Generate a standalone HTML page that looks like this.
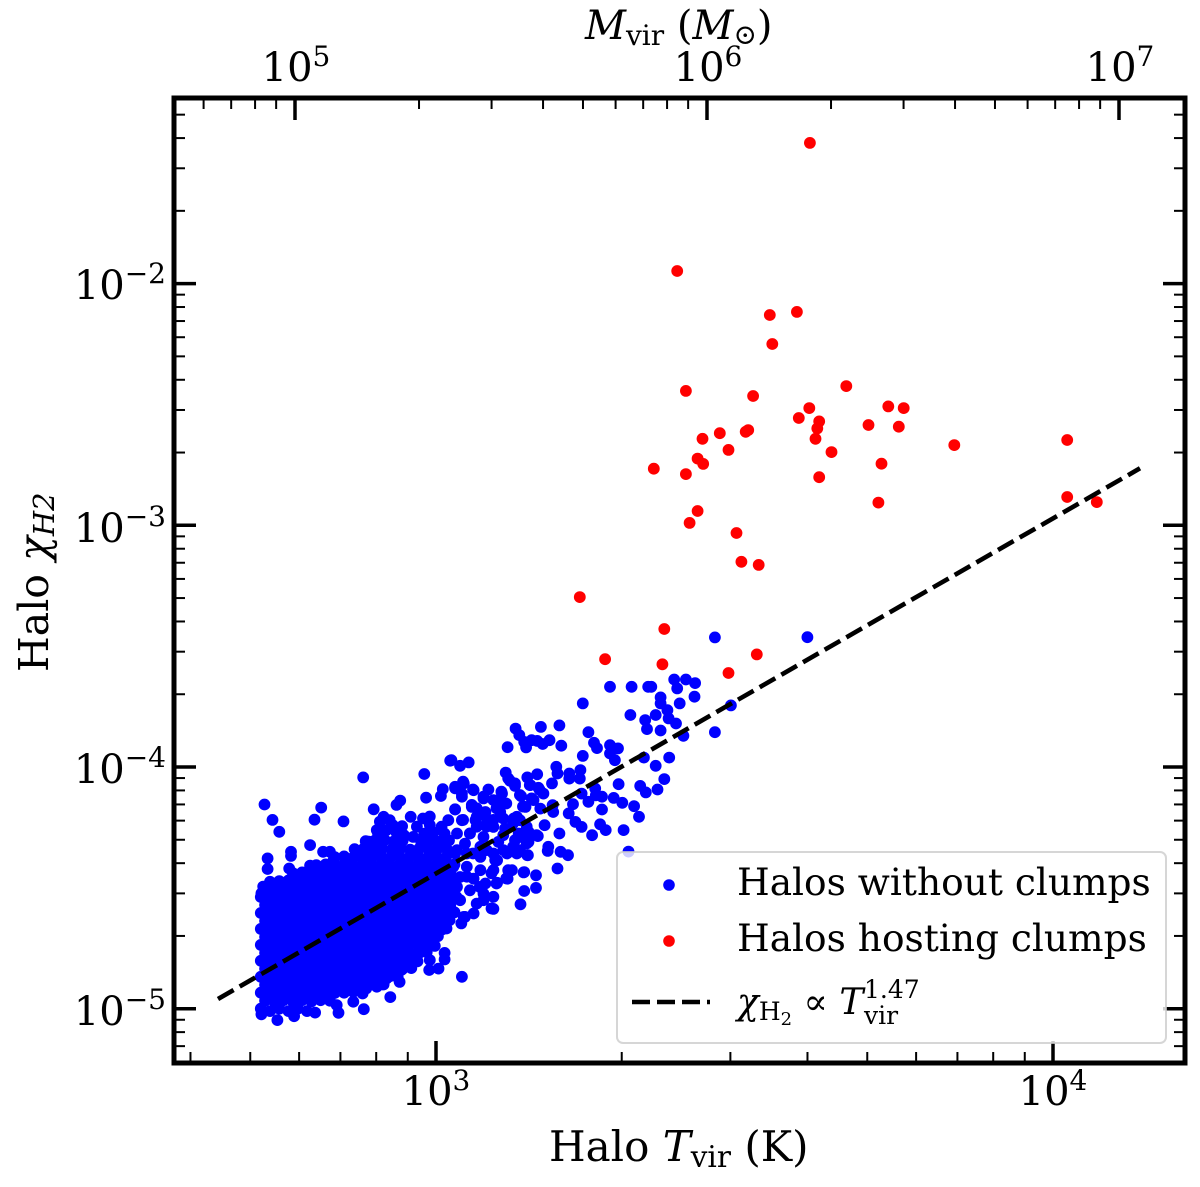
<!DOCTYPE html>
<html lang="en">
<head>
<meta charset="utf-8">
<title>Halo molecular hydrogen fraction versus virial temperature</title>
<style>
html,body{margin:0;padding:0;background:#fff}
svg{display:block}
text{font-family:"DejaVu Serif","Liberation Serif",serif;fill:#000}
.i{font-style:italic}
</style>
</head>
<body>
<svg id="chart" xmlns="http://www.w3.org/2000/svg" width="1200" height="1187" viewBox="0 0 1200 1187">
<rect x="0" y="0" width="1200" height="1187" fill="#fff"/>
<g id="marks"></g>
<g id="axes"></g>

<g font-size="40">
<text x="436" y="1105" text-anchor="middle">10<tspan font-size="28" dy="-15">3</tspan></text>
<text x="1053" y="1105" text-anchor="middle">10<tspan font-size="28" dy="-15">4</tspan></text>
<text x="296" y="81" text-anchor="middle">10<tspan font-size="28" dy="-15">5</tspan></text>
<text x="708" y="81" text-anchor="middle">10<tspan font-size="28" dy="-15">6</tspan></text>
<text x="1120" y="81" text-anchor="middle">10<tspan font-size="28" dy="-15">7</tspan></text>
<text x="166" y="299" text-anchor="end">10<tspan font-size="28" dy="-16">−2</tspan></text>
<text x="166" y="542" text-anchor="end">10<tspan font-size="28" dy="-16">−3</tspan></text>
<text x="166" y="783" text-anchor="end">10<tspan font-size="28" dy="-16">−4</tspan></text>
<text x="166" y="1025" text-anchor="end">10<tspan font-size="28" dy="-16">−5</tspan></text>
</g>

<text x="549" y="1161" font-size="42">Halo <tspan class="i">T</tspan><tspan font-size="29.5" dy="6">vir</tspan><tspan dy="-6"> (K)</tspan></text>
<text x="585" y="39" font-size="40"><tspan class="i">M</tspan><tspan font-size="28" dy="6">vir</tspan><tspan dy="-6"> (</tspan><tspan class="i">M</tspan><tspan font-size="28" dy="5">⊙</tspan><tspan dy="-5">)</tspan></text>
<text transform="translate(48,672) rotate(-90)" x="0" y="0" font-size="41">Halo <tspan class="i">χ</tspan><tspan class="i" font-size="29" dy="6">H2</tspan></text>

<g>
<rect x="617" y="852" width="549" height="191" rx="6" ry="6" fill="#fff" fill-opacity="0.8" stroke="#ccc" stroke-opacity="0.8" stroke-width="2"/>
<circle cx="669" cy="885" r="5.8" fill="#0000ff"/>
<text x="737" y="895" font-size="37.5">Halos without clumps</text>
<circle cx="669" cy="941" r="5.8" fill="#ff0000"/>
<text x="737" y="951" font-size="37.5">Halos hosting clumps</text>
<line x1="632" y1="1002" x2="710" y2="1002" stroke="#000" stroke-width="4.5" stroke-dasharray="18 7"/>
<text x="737" y="1014" font-size="36"><tspan class="i">χ</tspan><tspan font-size="25" dy="6">H</tspan><tspan font-size="18" dy="5">2</tspan><tspan dy="-11"> ∝ </tspan><tspan class="i">T</tspan></text>
<text x="864" y="998" font-size="25">1.47</text>
<text x="864" y="1024" font-size="25">vir</text>
</g>
</svg>

<script>
/* Values are log10(T_vir / K) and log10(x_H2). */
const xMajorExponents = [3, 4];
const yMajorExponents = [-5, -4, -3, -2];
const topMajorExponents = [5, 6, 7];
const minorMultipliers = [2, 3, 4, 5, 6, 7, 8, 9];

const fitLogT = [2.6467, 4.141];
const fitLogX = [-4.9600, -2.7640];

const redHalos = [
[3.606,-1.418],[3.391,-1.948],[3.541,-2.130],[3.585,-2.117],[3.545,-2.250],[3.405,-2.444],[3.514,-2.465],
[3.665,-2.424],[3.605,-2.515],[3.588,-2.556],[3.733,-2.508],[3.758,-2.515],[3.621,-2.570],[3.618,-2.599],
[3.615,-2.642],[3.701,-2.585],[3.750,-2.592],[3.506,-2.606],[3.502,-2.613],[3.460,-2.619],[3.432,-2.642],
[3.474,-2.688],[3.641,-2.697],[3.840,-2.668],[3.424,-2.724],[3.433,-2.746],[3.353,-2.766],[3.405,-2.788],
[3.722,-2.745],[3.621,-2.801],[3.717,-2.906],[3.424,-2.941],[3.411,-2.990],[3.487,-3.032],[3.495,-3.151],
[3.523,-3.164],[3.233,-3.297],[3.370,-3.429],[3.274,-3.554],[3.367,-3.575],[3.520,-3.534],[3.474,-3.611],
[4.023,-2.647],[4.023,-2.883],[4.071,-2.904]
];

const blueSparse = [
[3.602,-3.463],[3.452,-3.464],[3.282,-3.668],[3.317,-3.668],[3.344,-3.668],[3.349,-3.668],[3.386,-3.638],[3.405,-3.638],
[3.420,-3.653],[3.391,-3.675],[3.419,-3.709],[3.364,-3.712],[3.364,-3.737],[3.395,-3.737],[3.238,-3.737],[3.478,-3.745],
[3.375,-3.765],[3.315,-3.785],[3.356,-3.785],[3.377,-3.799],[3.339,-3.806],[3.389,-3.820],[3.342,-3.843],[3.364,-3.849],
[3.401,-3.871],[3.452,-3.856],[3.247,-3.856],[3.129,-3.841],[3.170,-3.834],[3.200,-3.828],[3.135,-3.868],[3.143,-3.896],
[3.155,-3.889],[3.164,-3.892],[3.173,-3.905],[3.184,-3.889],[3.203,-3.912],[3.116,-3.918],[3.146,-3.919],[3.256,-3.900],
[3.261,-3.922],[3.282,-3.910],[3.295,-3.923],[3.282,-3.944],[3.290,-3.972],[3.238,-3.954],[3.337,-3.961],[3.378,-3.961],
[3.356,-3.995],[3.370,-4.050],[3.053,-3.981],[3.039,-3.995],[3.025,-3.972],[3.113,-4.023],[3.195,-3.999],[3.197,-4.027],
[3.164,-4.030],[3.148,-4.043],[3.216,-4.027],[3.216,-4.048],[3.234,-4.013],[3.233,-4.048],[3.120,-4.057],[3.128,-4.078],
[3.188,-4.068],[3.296,-4.071],[3.331,-4.078],[3.340,-4.105],[3.359,-4.093],[3.153,-4.075],[3.166,-4.086],[3.174,-4.110],
[3.138,-4.121],[3.258,-4.089],[3.236,-4.110],[3.259,-4.117],[3.269,-4.123],[3.288,-4.128],[3.302,-4.148],[3.321,-4.162],
[3.329,-4.206],[3.247,-4.144],[3.269,-4.176],[3.222,-4.154],[3.215,-4.192],[3.226,-4.227],[3.236,-4.248],[3.266,-4.237],
[3.275,-4.261],[3.253,-4.282],[3.304,-4.261],[3.176,-4.241],[3.200,-4.275],[3.182,-4.330],[3.181,-4.347],[3.202,-4.351],
[3.214,-4.365],[3.197,-4.420],[3.165,-4.286],[3.148,-4.365],[3.143,-4.435],[3.162,-4.448],[3.162,-4.500],[3.143,-4.513],
[3.137,-4.568],[3.093,-4.587],[3.061,-4.606],[3.045,-4.620],[3.116,-4.462],[3.123,-4.427],[3.099,-4.479],[3.312,-4.350],
[3.045,-4.068],[3.031,-4.082],[3.061,-4.096],[3.085,-4.093],[3.042,-4.110],[3.107,-4.110],[3.099,-4.144],[3.077,-4.123],
[3.155,-4.130],[3.145,-4.165],[3.136,-4.220],[3.190,-4.186],[3.189,-4.158],[3.169,-4.172],[3.058,-4.165],[3.031,-4.176],
[3.080,-4.186],[3.104,-4.186],[3.126,-4.213],[3.042,-4.220],[3.064,-4.220],[3.082,-4.234],[3.093,-4.248],[3.112,-4.255],
[3.134,-4.275],[3.150,-4.268],[3.034,-4.275],[3.055,-4.275],[3.077,-4.289],[3.101,-4.310],[3.128,-4.303],[3.150,-4.310],
[3.047,-4.317],[3.072,-4.330],[3.093,-4.358],[3.115,-4.358],[3.136,-4.344],[3.034,-4.344],[3.050,-4.358],[3.072,-4.372],
[3.099,-4.386],[3.028,-4.413],[3.050,-4.413],[3.072,-4.427],[3.093,-4.427],[3.039,-4.455],[3.061,-4.462],[3.080,-4.482],
[3.034,-4.496],[3.055,-4.510],[3.077,-4.524],[3.093,-4.537],[3.039,-4.551],[3.066,-4.565],
[2.882,-4.043],[2.981,-4.029],[3.023,-3.974],[3.011,-4.092],[3.008,-4.120],[2.984,-4.127],[2.942,-4.139],[2.936,-4.157],
[2.814,-4.168],[2.803,-4.218],[2.850,-4.225],[2.899,-4.175],[2.915,-4.206],[2.925,-4.220],[2.909,-4.226],[2.904,-4.261],
[2.920,-4.261],[2.917,-4.302],[2.959,-4.206],[2.979,-4.213],[2.969,-4.247],[2.990,-4.240],[3.009,-4.247],[2.948,-4.282],
[2.963,-4.289],[3.031,-4.175],[3.044,-4.061],[3.031,-4.088],[3.042,-4.123],[3.060,-4.093],[2.891,-4.309],[2.796,-4.323],
[2.817,-4.351],[2.828,-4.351],[2.834,-4.385],[2.875,-4.358],[2.896,-4.344],[2.796,-4.408],[2.858,-4.392],[2.815,-4.426],
[2.722,-4.155],[2.735,-4.219],[2.746,-4.268],[2.727,-4.378],[2.727,-4.422],[2.765,-4.351],[2.765,-4.368],[2.762,-4.420],
[2.788,-4.451],[2.720,-4.495],[2.731,-4.475],[2.717,-4.523],[2.874,-4.364],[2.860,-4.399],
[3.042,-4.868],[2.926,-4.952],[2.883,-5.002],[2.842,-5.017],[2.866,-4.971],[2.817,-4.951],[2.839,-4.985],[2.804,-5.016],
[2.770,-5.031],[2.743,-5.047],[2.717,-5.023],[2.887,-4.916],[2.904,-4.909],[2.920,-4.875],[2.941,-4.889],[2.953,-4.820],
[2.966,-4.803],[2.944,-4.840],[2.990,-4.799],[2.989,-4.840],[3.004,-4.834],[3.014,-4.769],[3.014,-4.796],[2.985,-4.737],
[2.968,-4.730],[3.009,-4.609],[3.017,-4.668],[3.004,-4.661],[3.041,-4.647],[3.047,-4.620]
];

const blueMidBand = [
[3.058,-4.157],[3.066,-4.171],[3.077,-4.130],[3.093,-4.137],[3.106,-4.102],[3.114,-4.151],[3.098,-4.171],[3.079,-4.199],
[3.066,-4.206],[3.093,-4.219],[3.109,-4.213],[3.125,-4.233],[3.136,-4.116],[3.128,-4.068],[3.117,-4.047],[3.152,-4.075],
[3.168,-4.095],[3.158,-4.137],[3.141,-4.164],[3.131,-4.206],[3.147,-4.247],[3.163,-4.282],[3.136,-4.289],[3.147,-4.316],
[3.125,-4.330],[3.109,-4.282],[3.082,-4.247],[3.066,-4.247],[3.055,-4.275],[3.044,-4.219],[3.031,-4.358],[3.060,-4.358],
[3.082,-4.344],[3.109,-4.344],[3.131,-4.358],[3.149,-4.365],[3.096,-4.385],[3.090,-4.440],[3.098,-4.482],[3.117,-4.427],
[3.114,-4.461],[3.142,-4.436],[3.090,-4.585],[3.071,-4.496],[3.077,-4.551],[3.050,-4.454],[3.033,-4.537]
];

const blueLowerEdge = [
[2.828,-4.967],[2.851,-4.934],[2.866,-4.93],[2.881,-4.937],[2.888,-4.90],[2.903,-4.904],[2.915,-4.90],
[2.911,-4.868],[2.926,-4.865],[2.938,-4.87],[2.946,-4.835],[2.960,-4.832],[2.956,-4.80],[2.970,-4.804],
[2.973,-4.769],[2.985,-4.766],[2.971,-4.736],[2.986,-4.733],[2.998,-4.74],[2.993,-4.703],[3.003,-4.70],
[3.010,-4.672],[3.008,-4.637],[3.022,-4.634]
];

const blueDenseLower = [
[2.716,-5.00],[2.731,-5.01],[2.746,-5.00],[2.761,-5.01],[2.776,-5.00],[2.791,-5.01],
[2.723,-4.967],[2.738,-4.97],[2.753,-4.965],[2.768,-4.97],[2.783,-4.965],[2.798,-4.97],[2.813,-4.965],
[2.716,-4.934],[2.731,-4.93],[2.746,-4.937],[2.761,-4.93],[2.776,-4.937],[2.791,-4.93],[2.806,-4.937],[2.821,-4.93],[2.836,-4.935],
[2.723,-4.901],[2.738,-4.90],[2.753,-4.904],[2.768,-4.90],[2.783,-4.904],[2.798,-4.90],[2.813,-4.904],[2.828,-4.90],[2.843,-4.904],[2.858,-4.90],[2.873,-4.902],
[2.716,-4.868],[2.731,-4.865],[2.746,-4.87],[2.761,-4.865],[2.776,-4.87],[2.791,-4.865],[2.806,-4.87],[2.821,-4.865],[2.836,-4.87],[2.851,-4.865],[2.866,-4.87],[2.881,-4.865],[2.896,-4.87],
[2.723,-4.835],[2.738,-4.832],[2.753,-4.837],[2.768,-4.832],[2.783,-4.837],[2.798,-4.832],[2.813,-4.837],[2.828,-4.832],[2.843,-4.837],[2.858,-4.832],[2.873,-4.837],[2.888,-4.832],[2.903,-4.837],[2.918,-4.832],[2.931,-4.836],
[2.716,-4.802],[2.731,-4.80],[2.746,-4.804],[2.761,-4.80],[2.776,-4.804],[2.791,-4.80],[2.806,-4.804],[2.821,-4.80],[2.836,-4.804],[2.851,-4.80],[2.866,-4.804],[2.881,-4.80],[2.896,-4.804],[2.911,-4.80],[2.926,-4.804],[2.941,-4.80],
[2.723,-4.769],[2.738,-4.766],[2.753,-4.771],[2.768,-4.766],[2.783,-4.771],[2.798,-4.766],[2.813,-4.771],[2.828,-4.766],[2.843,-4.771],[2.858,-4.766],[2.873,-4.771],[2.888,-4.766],[2.903,-4.771],[2.918,-4.766],[2.933,-4.771],[2.948,-4.766],[2.958,-4.77],
[2.716,-4.736],[2.731,-4.733],[2.746,-4.738],[2.761,-4.733],[2.776,-4.738],[2.791,-4.733],[2.806,-4.738],[2.821,-4.733],[2.836,-4.738],[2.851,-4.733],[2.866,-4.738],[2.881,-4.733],[2.896,-4.738],[2.911,-4.733],[2.926,-4.738],[2.941,-4.733],[2.956,-4.736]
];

const blueDenseMiddle = [
[2.723,-4.703],[2.738,-4.70],[2.753,-4.705],[2.768,-4.70],[2.783,-4.705],[2.798,-4.70],[2.813,-4.705],[2.828,-4.70],[2.843,-4.705],[2.858,-4.70],[2.873,-4.705],[2.888,-4.70],[2.903,-4.705],[2.918,-4.70],[2.933,-4.705],[2.948,-4.70],[2.963,-4.705],[2.978,-4.70],
[2.716,-4.670],[2.731,-4.667],[2.746,-4.672],[2.761,-4.667],[2.776,-4.672],[2.791,-4.667],[2.806,-4.672],[2.821,-4.667],[2.836,-4.672],[2.851,-4.667],[2.866,-4.672],[2.881,-4.667],[2.896,-4.672],[2.911,-4.667],[2.926,-4.672],[2.941,-4.667],[2.956,-4.672],[2.971,-4.667],[2.986,-4.672],[2.998,-4.667],
[2.723,-4.637],[2.738,-4.634],[2.753,-4.639],[2.768,-4.634],[2.783,-4.639],[2.798,-4.634],[2.813,-4.639],[2.828,-4.634],[2.843,-4.639],[2.858,-4.634],[2.873,-4.639],[2.888,-4.634],[2.903,-4.639],[2.918,-4.634],[2.933,-4.639],[2.948,-4.634],[2.963,-4.639],[2.978,-4.634],[2.993,-4.639],
[2.716,-4.604],[2.731,-4.601],[2.746,-4.606],[2.761,-4.601],[2.776,-4.606],[2.791,-4.601],[2.806,-4.606],[2.821,-4.601],[2.836,-4.606],[2.851,-4.601],[2.866,-4.606],[2.881,-4.601],[2.896,-4.606],[2.911,-4.601],[2.926,-4.606],[2.941,-4.601],[2.956,-4.606],[2.971,-4.601],[2.986,-4.606],[3.001,-4.601],[3.016,-4.606],[3.030,-4.601],
[2.723,-4.571],[2.738,-4.568],[2.753,-4.573],[2.768,-4.568],[2.783,-4.573],[2.798,-4.568],[2.813,-4.573],[2.828,-4.568],[2.843,-4.573],[2.858,-4.568],[2.873,-4.573],[2.888,-4.568],[2.903,-4.573],[2.918,-4.568],[2.933,-4.573],[2.948,-4.568],[2.963,-4.573],[2.978,-4.568],[2.993,-4.573],[3.008,-4.568],[3.023,-4.573],
[2.716,-4.538],[2.731,-4.535],[2.746,-4.54],[2.761,-4.535],[2.776,-4.54],[2.791,-4.535],[2.806,-4.54],[2.821,-4.535],[2.836,-4.54],[2.851,-4.535],[2.866,-4.54],[2.881,-4.535],[2.896,-4.54],[2.911,-4.535],[2.926,-4.54],[2.941,-4.535],[2.956,-4.54],[2.971,-4.535],[2.986,-4.54],[3.001,-4.535],[3.016,-4.54],[3.030,-4.535],
[2.723,-4.505],[2.738,-4.502],[2.753,-4.507],[2.768,-4.502],[2.783,-4.507],[2.798,-4.502],[2.813,-4.507],[2.828,-4.502],[2.843,-4.507],[2.858,-4.502],[2.873,-4.507],[2.888,-4.502],[2.903,-4.507],[2.918,-4.502],[2.933,-4.507],[2.948,-4.502],[2.963,-4.507],[2.978,-4.502],[2.993,-4.507],[3.008,-4.502],[3.023,-4.507]
];

const blueDenseUpper = [
[2.746,-4.472],[2.761,-4.469],[2.776,-4.474],[2.791,-4.469],[2.806,-4.474],[2.821,-4.469],[2.836,-4.474],[2.851,-4.469],[2.866,-4.474],[2.881,-4.469],[2.896,-4.474],[2.911,-4.469],[2.926,-4.474],[2.941,-4.469],[2.956,-4.474],[2.971,-4.469],[2.986,-4.474],[3.001,-4.469],[3.016,-4.474],[3.030,-4.469],
[2.768,-4.439],[2.783,-4.436],[2.798,-4.441],[2.813,-4.436],[2.828,-4.441],[2.843,-4.436],[2.858,-4.441],[2.873,-4.436],[2.888,-4.441],[2.903,-4.436],[2.918,-4.441],[2.933,-4.436],[2.948,-4.441],[2.963,-4.436],[2.978,-4.441],[2.993,-4.436],[3.008,-4.441],[3.023,-4.436],
[2.806,-4.406],[2.821,-4.403],[2.836,-4.408],[2.851,-4.403],[2.866,-4.408],[2.881,-4.403],[2.896,-4.408],[2.911,-4.403],[2.926,-4.408],[2.941,-4.403],[2.956,-4.408],[2.971,-4.403],[2.986,-4.408],[3.001,-4.403],[3.016,-4.408],[3.030,-4.403],
[2.836,-4.373],[2.851,-4.37],[2.866,-4.375],[2.881,-4.37],[2.896,-4.375],[2.911,-4.37],[2.926,-4.375],[2.941,-4.37],[2.956,-4.375],[2.971,-4.37],[2.986,-4.375],[3.001,-4.37],[3.016,-4.375],
[2.868,-4.340],[2.883,-4.337],[2.898,-4.342],[2.913,-4.337],[2.928,-4.342],[2.943,-4.337],[2.958,-4.342],[2.973,-4.337],[2.988,-4.342],[3.003,-4.337],[3.018,-4.342],
[2.886,-4.307],[2.901,-4.304],[2.931,-4.309],[2.946,-4.304],[2.976,-4.309],[2.991,-4.304],[3.006,-4.309],[3.021,-4.304],
[2.906,-4.274],[2.936,-4.271],[2.981,-4.276],[2.996,-4.271],[3.014,-4.276],
[2.930,-4.241],[2.945,-4.245],[2.990,-4.205],[3.020,-4.220]
];

const SVG_NS = 'http://www.w3.org/2000/svg';

/* Axis functions: data (log10) to pixels. */
function xScale(logT) { return 436 + (logT - 3) * 617; }
function yScale(logX) { return 767 - (logX + 4) * 241.7; }
function topScale(logM) { return 295 + (logM - 5) * 412; }

const marks = document.getElementById('marks');
const axes = document.getElementById('axes');

function drawDot(point, color, name) {
  const el = document.createElementNS(SVG_NS, 'circle');
  el.setAttribute('cx', xScale(point[0]).toFixed(1));
  el.setAttribute('cy', yScale(point[1]).toFixed(1));
  el.setAttribute('r', '5.9');
  el.setAttribute('fill', color);
  
  
  marks.appendChild(el);
}

function drawRule(x1, y1, x2, y2, width, name) {
  const el = document.createElementNS(SVG_NS, 'line');
  el.setAttribute('x1', x1);
  el.setAttribute('y1', y1);
  el.setAttribute('x2', x2);
  el.setAttribute('y2', y2);
  el.setAttribute('stroke', '#000');
  el.setAttribute('stroke-width', width);
  
  
  axes.appendChild(el);
}

[blueDenseLower, blueDenseMiddle, blueDenseUpper, blueLowerEdge, blueMidBand, blueSparse].forEach(function (series) {
  series.forEach(function (p) { drawDot(p, '#0000ff', 'halo-without-clumps-point'); });
});
redHalos.forEach(function (p) { drawDot(p, '#ff0000', 'halo-hosting-clumps-point'); });

const fit = document.createElementNS(SVG_NS, 'line');
fit.setAttribute('x1', xScale(fitLogT[0]).toFixed(1));
fit.setAttribute('y1', yScale(fitLogX[0]).toFixed(1));
fit.setAttribute('x2', xScale(fitLogT[1]).toFixed(1));
fit.setAttribute('y2', yScale(fitLogX[1]).toFixed(1));
fit.setAttribute('stroke', '#000');
fit.setAttribute('stroke-width', '4.6');
fit.setAttribute('stroke-dasharray', '18 7');


marks.appendChild(fit);

const LEFT = 174, RIGHT = 1185, TOP = 98, BOTTOM = 1063;
const MAJOR = 22, MINOR = 11;

function drawHorizontalTicks(exps, scale, edge, dir, name) {
  exps.forEach(function (e) {
    drawRule(scale(e), edge, scale(e), edge + dir * MAJOR, 3.5, name + '-major-tick');
  });
  const first = Math.min.apply(null, exps) - 1;
  const last = Math.max.apply(null, exps);
  for (let d = first; d <= last; d++) {
    minorMultipliers.forEach(function (m) {
      const x = scale(d + Math.log10(m));
      if (x > LEFT + 2 && x < RIGHT - 2) drawRule(x, edge, x, edge + dir * MINOR, 2, name + '-minor-tick');
    });
  }
}

function drawVerticalTicks(exps, edge, dir, name) {
  exps.forEach(function (e) {
    drawRule(edge, yScale(e), edge + dir * MAJOR, yScale(e), 3.5, name + '-major-tick');
  });
  const first = Math.min.apply(null, exps) - 1;
  const last = Math.max.apply(null, exps);
  for (let d = first; d <= last; d++) {
    minorMultipliers.forEach(function (m) {
      const y = yScale(d + Math.log10(m));
      if (y > TOP + 2 && y < BOTTOM - 2) drawRule(edge, y, edge + dir * MINOR, y, 2, name + '-minor-tick');
    });
  }
}

drawHorizontalTicks(xMajorExponents, xScale, BOTTOM, -1, 'x-axis');
drawHorizontalTicks(topMajorExponents, topScale, TOP, 1, 'top-axis');
drawVerticalTicks(yMajorExponents, LEFT, 1, 'y-axis-left');
drawVerticalTicks(yMajorExponents, RIGHT, -1, 'y-axis-right');

const frame = document.createElementNS(SVG_NS, 'rect');
frame.setAttribute('x', LEFT);
frame.setAttribute('y', TOP);
frame.setAttribute('width', RIGHT - LEFT);
frame.setAttribute('height', BOTTOM - TOP);
frame.setAttribute('fill', 'none');
frame.setAttribute('stroke', '#000');
frame.setAttribute('stroke-width', '5');


axes.appendChild(frame);
</script>
</body>
</html>
